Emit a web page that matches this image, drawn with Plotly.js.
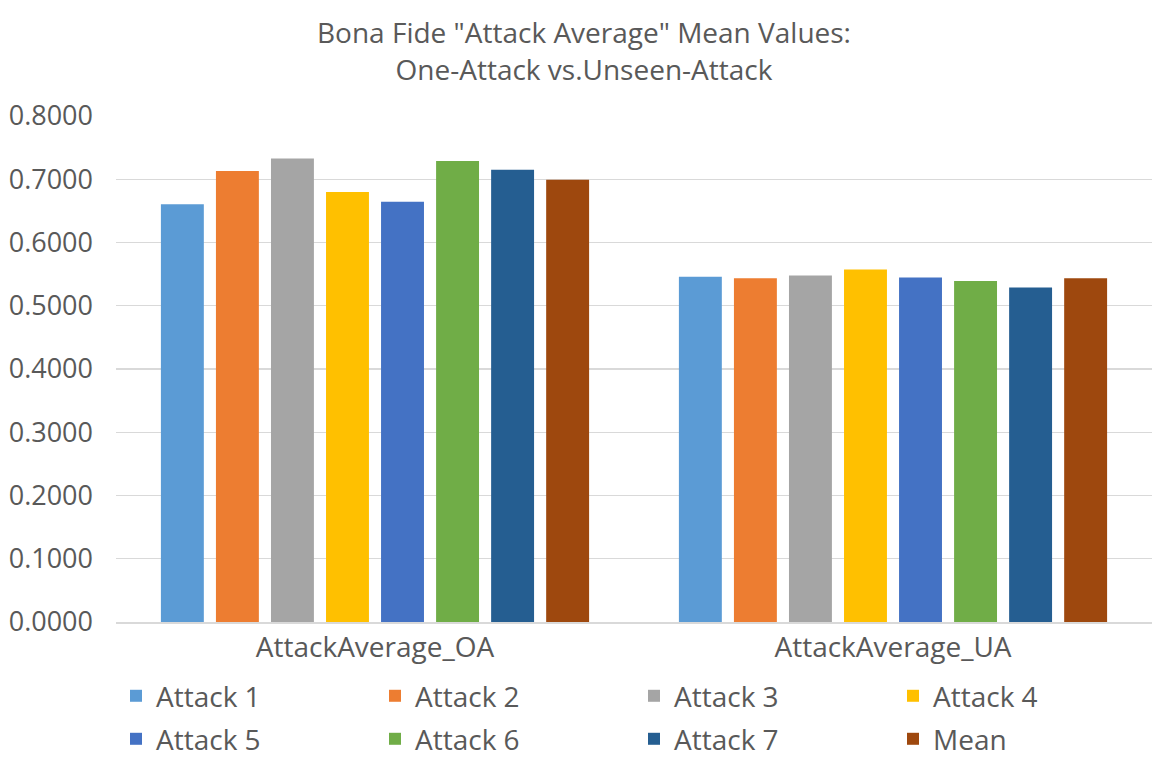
<!DOCTYPE html>
<html>
<head>
<meta charset="utf-8">
<script src="https://cdn.plot.ly/plotly-3.0.1.min.js"></script>
<style>html,body{margin:0;padding:0;background:#fff;}#chart{width:1168px;height:761px;}</style>
</head>
<body>
<div id="chart"></div>
<script>
const categories = ["AttackAverage_OA", "AttackAverage_UA"];
const seriesNames = ["Attack 1", "Attack 2", "Attack 3", "Attack 4", "Attack 5", "Attack 6", "Attack 7", "Mean"];
const attack1 = [0.6605, 0.5457];
const attack2 = [0.7130, 0.5436];
const attack3 = [0.7330, 0.5477];
const attack4 = [0.6800, 0.5572];
const attack5 = [0.6646, 0.5446];
const attack6 = [0.7290, 0.5393];
const attack7 = [0.7150, 0.5288];
const meanVals = [0.6994, 0.5436];
const colors = ["#5B9BD5", "#ED7D31", "#A5A5A5", "#FFC000", "#4472C4", "#70AD47", "#255E91", "#9E480E"];

const allSeries = [attack1, attack2, attack3, attack4, attack5, attack6, attack7, meanVals];
const fontFam = "Open Sans, Noto Sans, sans-serif";
const gray = "#595959";

const traces = allSeries.map((vals, i) => ({
  type: "bar",
  name: seriesNames[i],
  x: categories,
  y: vals,
  marker: {color: colors[i]},
  legend: i < 4 ? "legend" : "legend2",
  hoverinfo: "none"
}));

const legendBase = {
  orientation: "h",
  x: 0, xanchor: "left",
  yanchor: "top",
  entrywidth: 214,
  entrywidthmode: "pixels",
  font: {family: fontFam, size: 28, color: gray},
  traceorder: "normal",
  bgcolor: "rgba(0,0,0,0)"
};

const layout = {
  width: 1168,
  height: 761,
  paper_bgcolor: "#fff",
  plot_bgcolor: "#fff",
  margin: {l: 116, r: 16, t: 116, b: 139, autoexpand: false},
  barmode: "group",
  bargap: 0.15,
  bargroupgap: 0.22,
  title: {
    text: 'Bona Fide "Attack Average" Mean Values:<br>One-Attack vs.Unseen-Attack',
    font: {family: fontFam, size: 28, color: gray},
    x: 0.5, xanchor: "center",
    y: 0.943, yanchor: "top"
  },
  font: {family: fontFam, color: gray},
  xaxis: {
    showline: true,
    linecolor: "#d9d9d9",
    linewidth: 1.5,
    tickfont: {family: fontFam, size: 28, color: gray},
    showgrid: false,
    fixedrange: true
  },
  yaxis: {
    range: [0, 0.8],
    dtick: 0.1,
    tickformat: ".4f",
    showgrid: true,
    gridcolor: "#d9d9d9",
    gridwidth: 1.3,
    zeroline: true,
    zerolinecolor: "#d9d9d9",
    tickfont: {family: fontFam, size: 27, color: gray},
    ticklabelstandoff: 22,
    fixedrange: true
  },
  showlegend: true,
  legend: Object.assign({}, legendBase, {y: -0.097}),
  legend2: Object.assign({}, legendBase, {y: -0.182})
};

Plotly.newPlot("chart", traces, layout, {displayModeBar: false, staticPlot: true});
</script>
</body>
</html>
